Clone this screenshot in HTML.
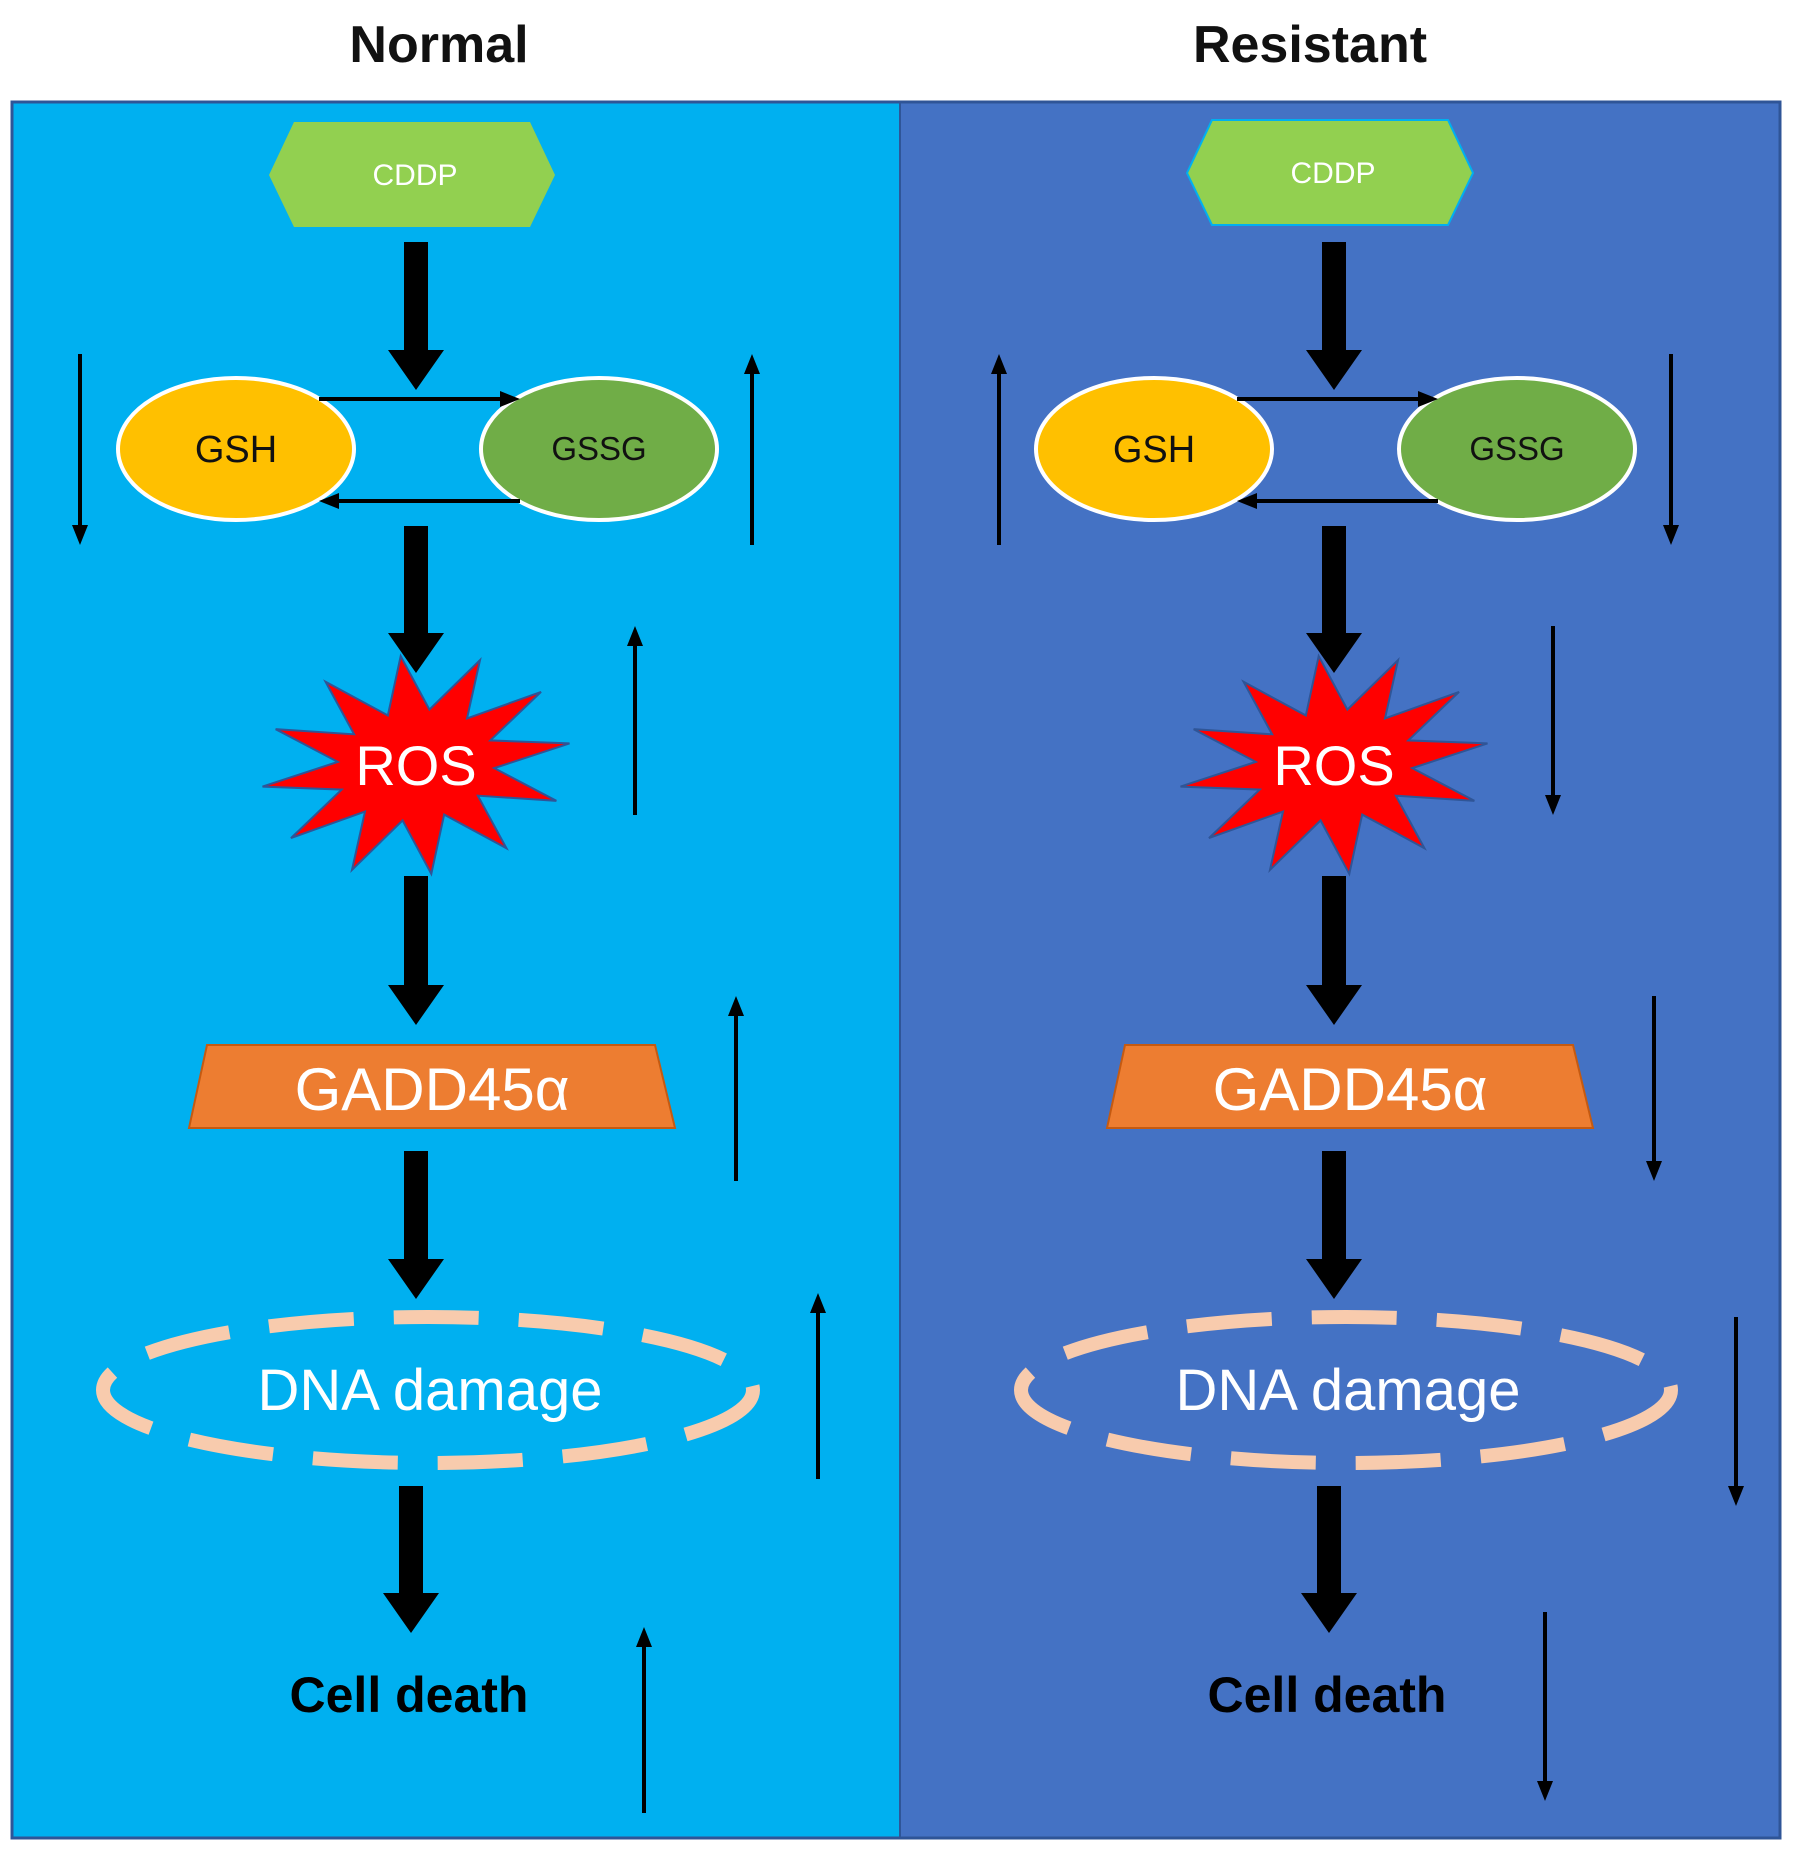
<!DOCTYPE html>
<html><head><meta charset="utf-8"><style>
html,body{margin:0;padding:0;background:#fff;}
svg{display:block;}
text{font-family:"Liberation Sans",sans-serif;}
</style></head><body>
<svg width="1795" height="1859" viewBox="0 0 1795 1859" xmlns="http://www.w3.org/2000/svg">
<defs>
<g id="star"><polygon points="155,0 77,14 134,55 57,39 78,95 21,53 0,110 -21,53 -78,95 -57,39 -134,55 -77,14 -155,0 -77,-14 -134,-55 -57,-39 -78,-95 -21,-53 0,-110 21,-53 78,-95 57,-39 134,-55 77,-14" fill="#ff0000" stroke="#2f5597" stroke-width="2" transform="rotate(-8)"/></g>
</defs>
<text x="439" y="62" font-size="52" font-weight="bold" text-anchor="middle" fill="#111">Normal</text>
<text x="1310" y="62" font-size="52" font-weight="bold" text-anchor="middle" fill="#111">Resistant</text>
<rect x="12" y="102" width="888" height="1736" fill="#00b0f0"/>
<rect x="900" y="102" width="880" height="1736" fill="#4472c4"/>
<rect x="12" y="102" width="1768" height="1736" fill="none" stroke="#2f5597" stroke-width="3"/>
<line x1="900" y1="102" x2="900" y2="1838" stroke="#2f5597" stroke-width="2"/>

<g>
<polygon points="294,122 530,122 555,175 530,227 294,227 269,175" fill="#92d050"/>
<text x="415" y="185" font-size="30" fill="#fff" text-anchor="middle">CDDP</text>
<polygon points="404,242 428,242 428,350 444,350 416,390 388,350 404,350" fill="#000"/>
<polygon points="404,526 428,526 428,633 444,633 416,673 388,633 404,633" fill="#000"/>
<polygon points="404,876 428,876 428,985 444,985 416,1025 388,985 404,985" fill="#000"/>
<polygon points="404,1151 428,1151 428,1259 444,1259 416,1299 388,1259 404,1259" fill="#000"/>
<polygon points="399,1486 423,1486 423,1593 439,1593 411,1633 383,1593 399,1593" fill="#000"/>
<ellipse cx="236" cy="449" rx="118" ry="71" fill="#ffc000" stroke="#fff" stroke-width="4"/>
<ellipse cx="599" cy="449" rx="118" ry="71" fill="#70ad47" stroke="#fff" stroke-width="4"/>
<text x="236" y="462" font-size="38" text-anchor="middle" fill="#111">GSH</text>
<text x="599" y="460" font-size="33" text-anchor="middle" fill="#111">GSSG</text>
<line x1="319" y1="399" x2="505" y2="399" stroke="#000" stroke-width="4"/>
<polygon points="520,399 500,391 500,407" fill="#000"/>
<line x1="520" y1="501" x2="334" y2="501" stroke="#000" stroke-width="4"/>
<polygon points="319,501 339,493 339,509" fill="#000"/>
<use href="#star" x="416" y="765"/>
<text x="416" y="785" font-size="56" text-anchor="middle" fill="#fff">ROS</text>
<polygon points="207,1045 655,1045 675,1128 189,1128" fill="#ed7d31" stroke="#c55a11" stroke-width="2"/>
<text x="432" y="1110" font-size="60" text-anchor="middle" fill="#fff">GADD45α</text>
<ellipse cx="428" cy="1390" rx="325" ry="73" fill="none" stroke="#f8cbad" stroke-width="14" stroke-dasharray="85,40"/>
<text x="430" y="1410" font-size="58" text-anchor="middle" fill="#fff">DNA damage</text>
<text x="409" y="1712" font-size="50" font-weight="bold" text-anchor="middle" fill="#000">Cell death</text>
</g>
<g stroke="#000" stroke-width="4" fill="#000">
<line x1="80" y1="354" x2="80" y2="528"/><polygon points="80,545 72,525 88,525" stroke="none"/>
<line x1="752" y1="370" x2="752" y2="545"/><polygon points="752,354 744,374 760,374" stroke="none"/>
<line x1="635" y1="642" x2="635" y2="815"/><polygon points="635,626 627,646 643,646" stroke="none"/>
<line x1="736" y1="1012" x2="736" y2="1181"/><polygon points="736,996 728,1016 744,1016" stroke="none"/>
<line x1="818" y1="1309" x2="818" y2="1479"/><polygon points="818,1293 810,1313 826,1313" stroke="none"/>
<line x1="644" y1="1643" x2="644" y2="1813"/><polygon points="644,1627 636,1647 652,1647" stroke="none"/>
</g>

<g transform="translate(918,-2)">
<polygon points="294,122 530,122 555,175 530,227 294,227 269,175" fill="#92d050" stroke="#00b0f0" stroke-width="2"/>
<text x="415" y="185" font-size="30" fill="#fff" text-anchor="middle">CDDP</text>
<polygon points="404,244 428,244 428,352 444,352 416,392 388,352 404,352" fill="#000"/>
<polygon points="404,528 428,528 428,635 444,635 416,675 388,635 404,635" fill="#000"/>
<polygon points="404,878 428,878 428,987 444,987 416,1027 388,987 404,987" fill="#000"/>
<polygon points="404,1153 428,1153 428,1261 444,1261 416,1301 388,1261 404,1261" fill="#000"/>
<polygon points="399,1488 423,1488 423,1595 439,1595 411,1635 383,1595 399,1595" fill="#000"/>
<ellipse cx="236" cy="451" rx="118" ry="71" fill="#ffc000" stroke="#fff" stroke-width="4"/>
<ellipse cx="599" cy="451" rx="118" ry="71" fill="#70ad47" stroke="#fff" stroke-width="4"/>
<text x="236" y="464" font-size="38" text-anchor="middle" fill="#111">GSH</text>
<text x="599" y="462" font-size="33" text-anchor="middle" fill="#111">GSSG</text>
<line x1="319" y1="401" x2="505" y2="401" stroke="#000" stroke-width="4"/>
<polygon points="520,401 500,393 500,409" fill="#000"/>
<line x1="520" y1="503" x2="334" y2="503" stroke="#000" stroke-width="4"/>
<polygon points="319,503 339,495 339,511" fill="#000"/>
<use href="#star" x="416" y="767"/>
<text x="416" y="787" font-size="56" text-anchor="middle" fill="#fff">ROS</text>
<polygon points="207,1047 655,1047 675,1130 189,1130" fill="#ed7d31" stroke="#c55a11" stroke-width="2"/>
<text x="432" y="1112" font-size="60" text-anchor="middle" fill="#fff">GADD45α</text>
<ellipse cx="428" cy="1392" rx="325" ry="73" fill="none" stroke="#f8cbad" stroke-width="14" stroke-dasharray="85,40"/>
<text x="430" y="1412" font-size="58" text-anchor="middle" fill="#fff">DNA damage</text>
<text x="409" y="1714" font-size="50" font-weight="bold" text-anchor="middle" fill="#000">Cell death</text>
</g>
<g stroke="#000" stroke-width="4" fill="#000">
<line x1="999" y1="370" x2="999" y2="545"/><polygon points="999,354 991,374 1007,374" stroke="none"/>
<line x1="1671" y1="354" x2="1671" y2="528"/><polygon points="1671,545 1663,525 1679,525" stroke="none"/>
<line x1="1553" y1="626" x2="1553" y2="799"/><polygon points="1553,815 1545,795 1561,795" stroke="none"/>
<line x1="1654" y1="996" x2="1654" y2="1165"/><polygon points="1654,1181 1646,1161 1662,1161" stroke="none"/>
<line x1="1736" y1="1317" x2="1736" y2="1490"/><polygon points="1736,1506 1728,1486 1744,1486" stroke="none"/>
<line x1="1545" y1="1612" x2="1545" y2="1785"/><polygon points="1545,1801 1537,1781 1553,1781" stroke="none"/>
</g>
</svg>
</body></html>
